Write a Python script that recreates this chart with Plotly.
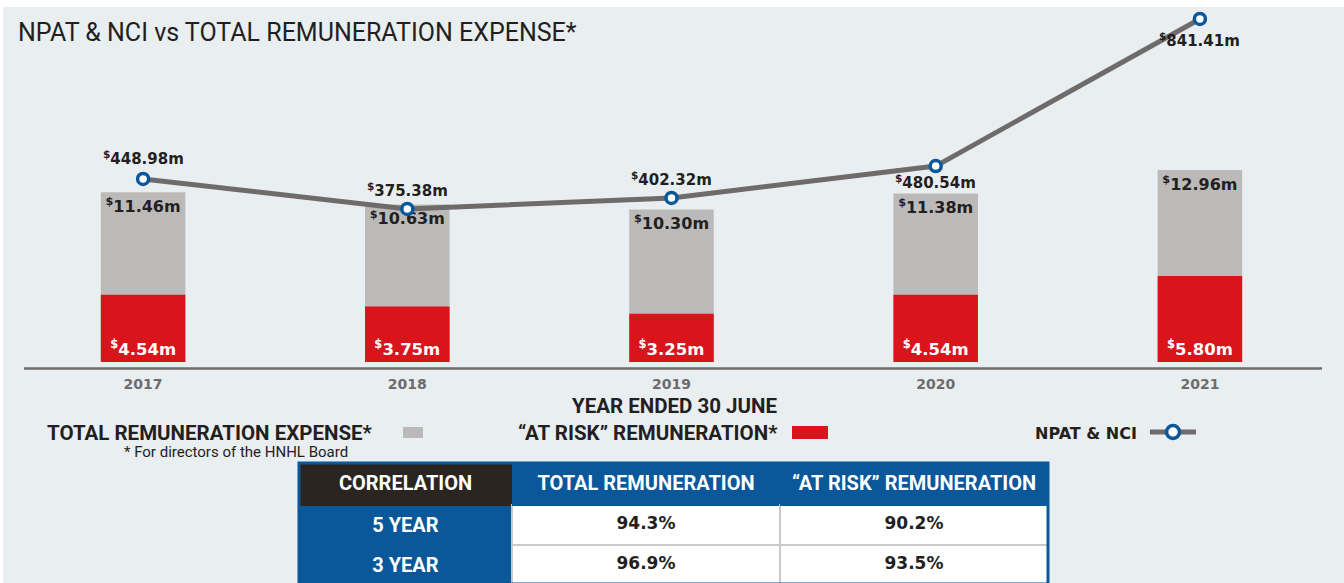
import plotly.graph_objects as go

# ── data ──────────────────────────────────────────────────────────
years = ["2017", "2018", "2019", "2020", "2021"]
total_rem = [11.46, 10.63, 10.30, 11.38, 12.96]      # $m, grey bars
at_risk_rem = [4.54, 3.75, 3.25, 4.54, 5.80]         # $m, red bars
npat_nci = [448.98, 375.38, 402.32, 480.54, 841.41]  # $m, line

table_header = ["CORRELATION", "TOTAL REMUNERATION", "“AT RISK” REMUNERATION"]
table_rows = ["5 YEAR", "3 YEAR"]
corr_total = ["94.3%", "96.9%"]
corr_at_risk = ["90.2%", "93.5%"]

# ── styling ───────────────────────────────────────────────────────
W, H = 1344, 583
GREY = "#bbbab9"
RED = "#d9141b"
BLUE = "#0a5799"
DARK = "#231f20"
LINE = "#6e6b6a"
BG = "#e9eef0"
WIDE = "DejaVu Sans, sans-serif"
NARROW = "Roboto, sans-serif"


def px_x(v):
    return v / W


def px_y(v):
    return 1 - v / H


def money(v):
    return f"<sup>$</sup>{v:.2f}m"


fig = go.Figure()

fig.add_trace(go.Bar(
    x=years, y=total_rem, marker_color=GREY, marker_line_width=0,
    width=0.32, text=[money(v) for v in total_rem],
    textposition="inside", insidetextanchor="end", constraintext="none",
    textfont=dict(family=WIDE, size=16, color=DARK, weight="bold"),
    showlegend=False, hoverinfo="skip",
))
fig.add_trace(go.Bar(
    x=years, y=at_risk_rem, marker_color=RED, marker_line_width=0,
    width=0.32, text=[money(v) for v in at_risk_rem],
    textposition="inside", insidetextanchor="start", constraintext="none",
    textfont=dict(family=WIDE, size=16.5, color="white", weight="bold"),
    showlegend=False, hoverinfo="skip",
))
fig.add_trace(go.Scatter(
    x=years, y=npat_nci, yaxis="y2", mode="lines+markers",
    line=dict(color=LINE, width=5),
    marker=dict(symbol="circle", size=11, color="white",
                line=dict(color=BLUE, width=3.5)),
    showlegend=False, hoverinfo="skip", cliponaxis=False,
))

# ── correlation table ─────────────────────────────────────────────
fig.add_trace(go.Table(
    domain=dict(x=[px_x(299), px_x(1048)], y=[0, px_y(463)]),
    columnwidth=[213, 268, 268],
    header=dict(
        values=[f"<b>{h}</b>" for h in table_header],
        fill_color=["#2a2520", BLUE, BLUE],
        line=dict(color=["#2a2520", BLUE, BLUE], width=1),
        font=dict(family=NARROW, size=20, color="white"),
        height=42, align="center",
    ),
    cells=dict(
        values=[[f"<b>{r}</b>" for r in table_rows],
                [f"<b>{v}</b>" for v in corr_total],
                [f"<b>{v}</b>" for v in corr_at_risk]],
        fill_color=[[BLUE, BLUE], ["white", "white"], ["white", "white"]],
        line=dict(color=[BLUE, "#c9c9c9", "#c9c9c9"], width=2),
        font=dict(family=[NARROW, WIDE, WIDE], size=[20, 17, 17],
                  color=["white", DARK, DARK]),
        height=39, align="center",
    ),
))

# ── NPAT labels, placed on the line's own axis ───────────────────
# category axis: annotation x is the category index
label_shift = [21, 19, 19, -16, -21]
ann = [
    dict(x=i, y=v, xref="x", yref="y2", yshift=s, text=money(v),
         showarrow=False, yanchor="middle", xanchor="center",
         font=dict(family=WIDE, size=15, color=DARK, weight="bold"))
    for i, (v, s) in enumerate(zip(npat_nci, label_shift))
]

# ── annotations: title, axis caption, legend ─────────────────────
page_text = [
    dict(x=px_x(16), y=px_y(33), text="NPAT & NCI vs TOTAL REMUNERATION EXPENSE*",
         xanchor="left", font=dict(family="Roboto", size=25, color=DARK)),
    dict(x=px_x(675), y=px_y(406), text="<b>YEAR ENDED 30 JUNE</b>",
         xanchor="center", font=dict(family=NARROW, size=20.5, color=DARK)),
    dict(x=px_x(375), y=px_y(433), text="<b>TOTAL REMUNERATION EXPENSE*</b>",
         xanchor="right", font=dict(family=NARROW, size=20.5, color=DARK)),
    dict(x=px_x(236), y=px_y(452), text="* For directors of the HNHL Board",
         xanchor="center", font=dict(family=NARROW, size=15, color=DARK)),
    dict(x=px_x(780), y=px_y(433), text="<b>“AT RISK” REMUNERATION*</b>",
         xanchor="right", font=dict(family=NARROW, size=20.5, color=DARK)),
    dict(x=px_x(1139), y=px_y(433), text="<b>NPAT & NCI</b>",
         xanchor="right", font=dict(family=WIDE, size=16, color=DARK)),
]
for a in page_text:
    a.update(xref="paper", yref="paper", showarrow=False, yanchor="middle")
ann += page_text

shapes = [
    # background panel (white strip top/left like the source)
    dict(type="rect", x0=px_x(3), x1=1, y0=0, y1=px_y(7),
         fillcolor=BG, line_width=0, layer="below"),
    # baseline
    dict(type="line", x0=px_x(24), x1=px_x(1322), y0=px_y(368.5), y1=px_y(368.5),
         line=dict(color=LINE, width=2.5)),
    # legend swatches
    dict(type="rect", x0=px_x(403), x1=px_x(423), y0=px_y(438), y1=px_y(427),
         fillcolor=GREY, line_width=0),
    dict(type="rect", x0=px_x(792), x1=px_x(828), y0=px_y(439), y1=px_y(426),
         fillcolor=RED, line_width=0),
    dict(type="line", x0=px_x(1150), x1=px_x(1196), y0=px_y(432), y1=px_y(432),
         line=dict(color=LINE, width=5)),
    dict(type="circle", x0=px_x(1166.5), x1=px_x(1179.5), y0=px_y(438.5), y1=px_y(425.5),
         fillcolor="white", line=dict(color=BLUE, width=3.5)),
    # table outline
    dict(type="rect", x0=px_x(299), x1=px_x(1048), y0=px_y(584), y1=px_y(463),
         line=dict(color=BLUE, width=3), fillcolor="rgba(0,0,0,0)"),
]
for s in shapes:
    s.update(xref="paper", yref="paper")

fig.update_layout(
    width=W, height=H,
    margin=dict(l=0, r=0, t=0, b=0),
    paper_bgcolor="white", plot_bgcolor="rgba(0,0,0,0)",
    barmode="overlay",
    xaxis=dict(type="category", categoryorder="array", categoryarray=years,
               range=[-0.5, len(years) - 0.5],
               domain=[px_x(11), px_x(1332)], showgrid=False, zeroline=False,
               showline=False, ticks="", ticklabelstandoff=12,
               tickfont=dict(family=WIDE, size=14, color=LINE, weight="bold")),
    yaxis=dict(domain=[px_y(362), px_y(10)], range=[0, 23.77], visible=False),
    yaxis2=dict(overlaying="y", range=[0, 863.4], visible=False),
    annotations=ann, shapes=shapes,
)

# drop the browser's default body margin so the figure sits at 0,0
fig.write_html("out.html", config={"displayModeBar": False},
               post_script="document.body.style.margin='0';")
